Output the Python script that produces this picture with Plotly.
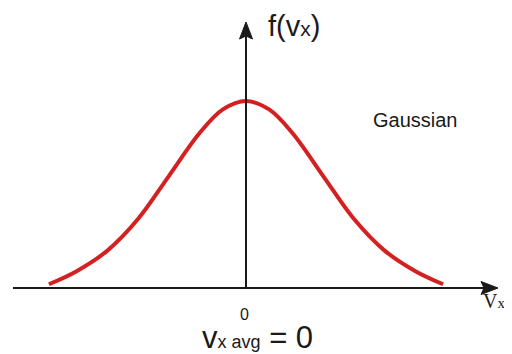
import plotly.graph_objects as go

# Data (vx in units of sigma, f normalised to peak)
vx = [-2.56, -2.2, -1.8, -1.4, -1.0, -0.6, -0.3, 0.0, 0.3, 0.6, 1.0, 1.4, 1.8, 2.2, 2.56]
f_vx = [0.02, 0.09, 0.20, 0.37, 0.60, 0.83, 0.955, 1.0, 0.955, 0.83, 0.60, 0.37, 0.20, 0.09, 0.02]

OFF = 8                     # page body margin
W, H = 512 - OFF, 354 - OFF
X0PX, Y0PX = 246, 288      # pixel position of origin in the reference
SX, SY = 77.0, 187.0        # pixels per data unit

def px(x):   # reference pixel -> paper
    return (x - OFF) / W

def py(y):
    return 1 - (y - OFF) / H

fig = go.Figure()
fig.add_trace(go.Scatter(
    x=vx, y=f_vx, mode="lines",
    line=dict(color="#d42020", width=4, shape="spline", smoothing=1.0),
    hoverinfo="skip", showlegend=False,
))

axis_col = "#1a1a1a"
shapes = [
    dict(type="line", xref="paper", yref="paper", x0=px(13), x1=px(488), y0=py(288), y1=py(288),
         line=dict(color=axis_col, width=2)),
    dict(type="line", xref="paper", yref="paper", x0=px(246), x1=px(246), y0=py(289), y1=py(34),
         line=dict(color=axis_col, width=2)),
    dict(type="path", xref="paper", yref="paper",
         path=f"M {px(498)},{py(288)} L {px(481)},{py(281.5)} L {px(484)},{py(288)} L {px(481)},{py(294.5)} Z",
         fillcolor=axis_col, line=dict(color=axis_col, width=1)),
    dict(type="path", xref="paper", yref="paper",
         path=f"M {px(246)},{py(22)} L {px(239.5)},{py(39)} L {px(246)},{py(36)} L {px(252.5)},{py(39)} Z",
         fillcolor=axis_col, line=dict(color=axis_col, width=1)),
]

sans = "Liberation Sans, Arial, sans-serif"
serif = "Liberation Serif, Times New Roman, serif"
txt = "#1a1a1a"
annotations = [
    dict(text="f(v<span style='font-size:21px'>x</span>)", xref="paper", yref="paper", x=px(294), y=py(26),
         showarrow=False, font=dict(family=sans, size=29, color=txt), xanchor="center", yanchor="middle"),
    dict(text="Gaussian", xref="paper", yref="paper", x=px(415), y=py(120),
         showarrow=False, font=dict(family=sans, size=20, color=txt), xanchor="center", yanchor="middle"),
    dict(text="0", xref="paper", yref="paper", x=px(244), y=py(314),
         showarrow=False, font=dict(family=sans, size=16, color=txt), xanchor="center", yanchor="middle"),
    dict(text="v<span style='font-size:18px'>x avg</span> = 0", xref="paper", yref="paper", x=px(257), y=py(337),
         showarrow=False, font=dict(family=sans, size=31, color=txt), xanchor="center", yanchor="middle"),
    dict(text="V<span style='font-size:15px'>x</span>", xref="paper", yref="paper", x=px(494), y=py(301),
         showarrow=False, font=dict(family=serif, size=20, color=txt), xanchor="center", yanchor="middle"),
]

fig.update_layout(
    width=W, height=H,
    margin=dict(l=0, r=0, t=0, b=0),
    paper_bgcolor="white", plot_bgcolor="white",
    xaxis=dict(range=[-(X0PX - OFF) / SX, (512 - X0PX) / SX], visible=False, fixedrange=True),
    yaxis=dict(range=[-(354 - Y0PX) / SY, (Y0PX - OFF) / SY], visible=False, fixedrange=True),
    shapes=shapes, annotations=annotations, showlegend=False,
)

fig.write_html("out.html")
